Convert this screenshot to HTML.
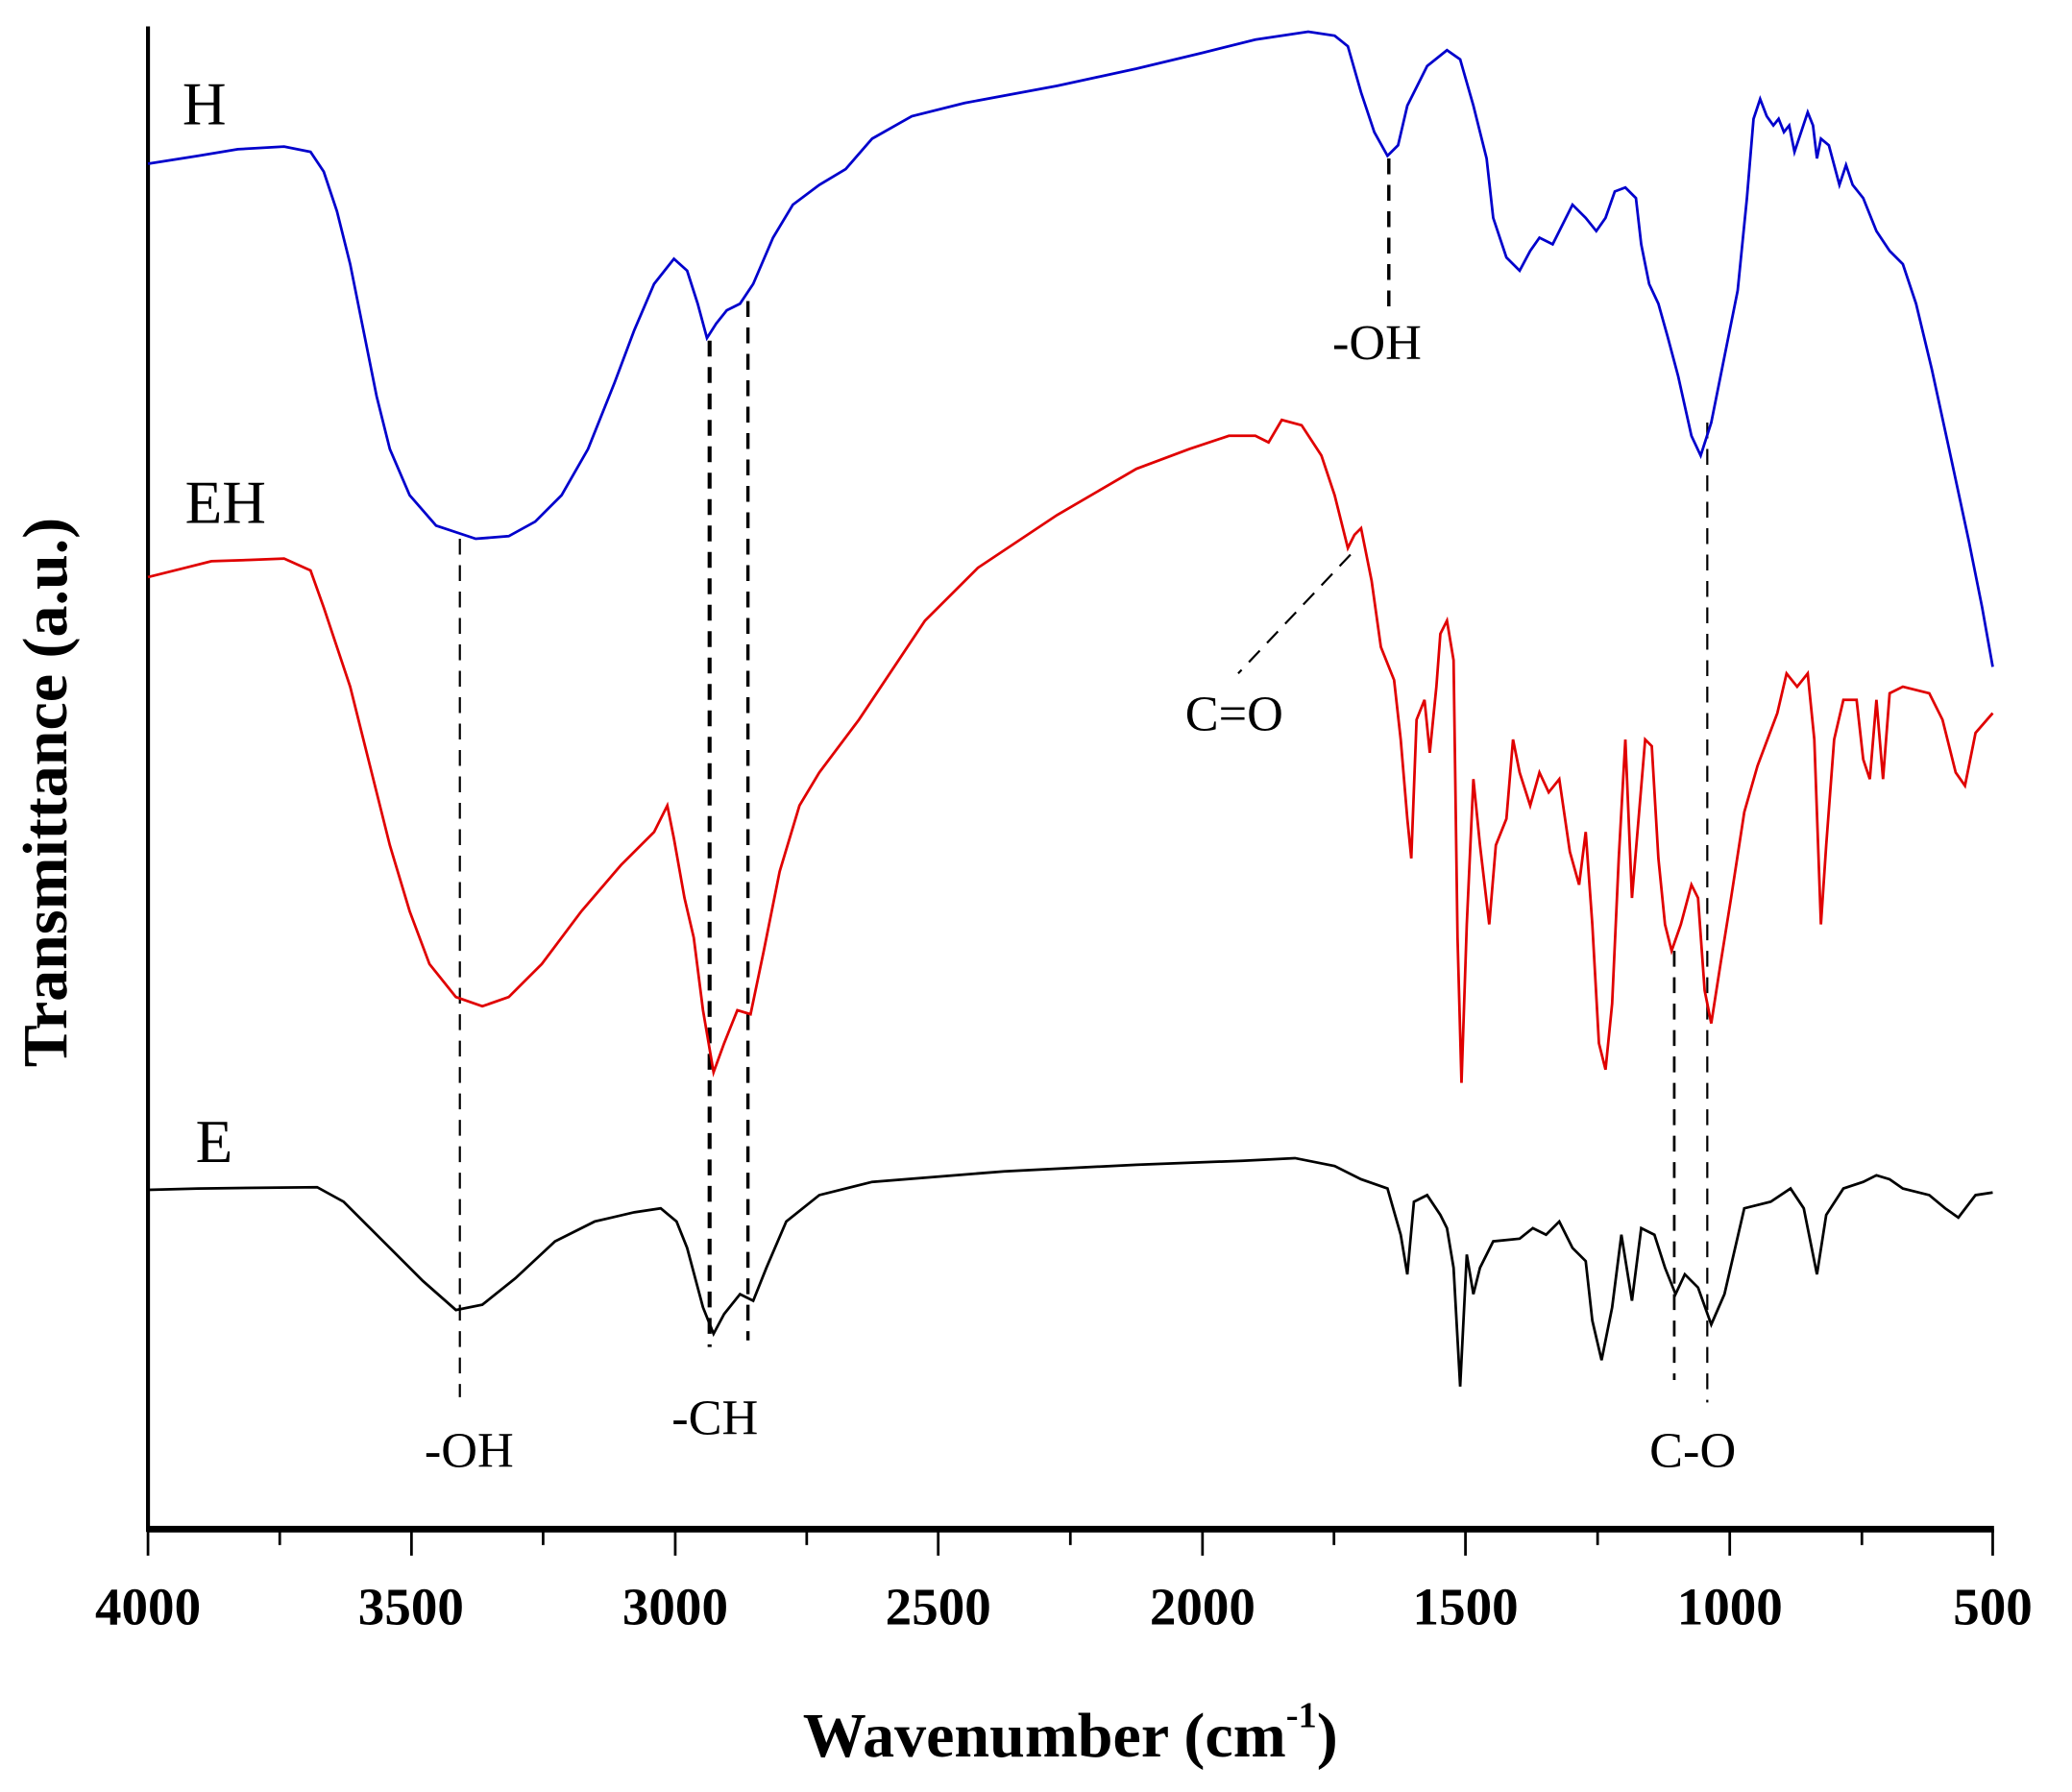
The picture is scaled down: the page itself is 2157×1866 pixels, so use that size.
<!DOCTYPE html>
<html><head><style>html,body{margin:0;padding:0;background:#fff}svg{display:block}</style></head><body>
<svg width="2157" height="1866" viewBox="0 0 1568 1357" preserveAspectRatio="none" xmlns="http://www.w3.org/2000/svg" font-family="Liberation Serif, serif">
<rect width="1568" height="1357" fill="#fff"/>
<g stroke="#000" fill="none">
<line x1="112" y1="20" x2="112" y2="1160" stroke-width="3"/>
<line x1="111" y1="1158" x2="1509" y2="1158" stroke-width="5"/>
<g stroke-width="2">
<line x1="112" y1="1158" x2="112" y2="1178"/><line x1="211.7" y1="1158" x2="211.7" y2="1170"/>
<line x1="311.4" y1="1158" x2="311.4" y2="1178"/><line x1="411" y1="1158" x2="411" y2="1170"/>
<line x1="511" y1="1158" x2="511" y2="1178"/><line x1="610.5" y1="1158" x2="610.5" y2="1170"/>
<line x1="710" y1="1158" x2="710" y2="1178"/><line x1="810" y1="1158" x2="810" y2="1170"/>
<line x1="910" y1="1158" x2="910" y2="1178"/><line x1="1009.5" y1="1158" x2="1009.5" y2="1170"/>
<line x1="1109" y1="1158" x2="1109" y2="1178"/><line x1="1209" y1="1158" x2="1209" y2="1170"/>
<line x1="1309" y1="1158" x2="1309" y2="1178"/><line x1="1409" y1="1158" x2="1409" y2="1170"/>
<line x1="1508" y1="1158" x2="1508" y2="1178"/>
</g>
</g>
<g font-size="40" font-weight="bold" text-anchor="middle">
<text x="112" y="1230">4000</text><text x="311" y="1230">3500</text><text x="511" y="1230">3000</text><text x="710" y="1230">2500</text><text x="910" y="1230">2000</text><text x="1109" y="1230">1500</text><text x="1309" y="1230">1000</text><text x="1508" y="1230">500</text>
</g>
<text x="810" y="1330" font-size="48" font-weight="bold" text-anchor="middle">Wavenumber (cm<tspan font-size="28" dy="-22">-1</tspan><tspan dy="22">)</tspan></text>
<text transform="translate(50,600) rotate(-90)" font-size="48" font-weight="bold" text-anchor="middle">Transmittance (a.u.)</text>

<g stroke="#000" fill="none" stroke-dasharray="12,8">
<line x1="348" y1="408" x2="348" y2="1058" stroke-width="1.6"/>
<line x1="537" y1="258" x2="537" y2="1020" stroke-width="3"/>
<line x1="566" y1="228" x2="566" y2="1015" stroke-width="2.5"/>
<line x1="1051" y1="120" x2="1051" y2="232" stroke-width="2.5"/>
<line x1="1292" y1="320" x2="1292" y2="1062" stroke-width="1.6"/>
<line x1="1267" y1="720" x2="1267" y2="1045" stroke-width="2"/>
<line x1="1022" y1="420" x2="937" y2="510" stroke-width="1.6"/>
</g>

<polyline fill="none" stroke="#0000cc" stroke-width="2" points="112,124 150,118 180,113 215,111 235,115 245,130 255,160 265,200 275,250 285,300 295,340 310,375 330,398 360,408 385,406 405,395 425,375 445,340 465,290 480,250 495,215 510,196 520,205 528,230 535,256 542,245 550,235 560,230 570,215 585,180 600,155 620,140 640,128 660,105 690,88 730,78 800,65 860,52 910,40 950,30 990,24 1010,27 1020,35 1030,70 1040,100 1050,118 1058,110 1065,80 1080,50 1095,38 1105,45 1115,80 1125,120 1130,165 1140,195 1150,205 1158,190 1165,180 1175,185 1180,175 1190,155 1200,165 1208,175 1215,165 1222,145 1230,142 1238,150 1242,185 1248,215 1255,230 1262,255 1270,285 1280,330 1287,345 1295,320 1305,270 1315,220 1322,150 1327,90 1332,75 1337,88 1342,95 1346,90 1350,100 1354,95 1358,115 1363,100 1368,85 1372,95 1375,120 1378,105 1384,110 1388,125 1392,140 1397,125 1402,140 1410,150 1420,175 1430,190 1440,200 1450,230 1462,280 1475,340 1490,410 1500,460 1508,505"/>

<polyline fill="none" stroke="#e00000" stroke-width="2" points="112,437 140,430 160,425 190,424 215,423 235,432 245,460 255,490 265,520 280,580 295,640 310,690 325,730 345,755 365,762 385,755 410,730 440,690 470,655 495,630 505,610 510,635 518,680 525,710 532,765 540,812 548,790 558,765 568,768 578,720 590,660 605,610 620,585 650,545 700,470 740,430 800,390 860,355 900,340 930,330 950,330 960,335 970,318 985,322 1000,345 1010,375 1020,415 1025,405 1030,400 1038,440 1045,490 1055,515 1060,560 1065,620 1068,650 1072,545 1078,530 1082,570 1087,520 1090,480 1095,470 1100,500 1103,710 1106,820 1110,700 1115,590 1120,640 1127,700 1132,640 1140,620 1145,560 1150,585 1158,610 1165,585 1172,600 1180,590 1188,645 1195,670 1200,630 1205,700 1210,790 1215,810 1220,760 1225,650 1230,560 1235,680 1240,620 1245,560 1250,565 1255,650 1260,700 1265,720 1272,700 1280,670 1285,680 1290,750 1295,775 1302,730 1310,680 1320,615 1330,580 1345,540 1352,510 1360,520 1368,510 1373,560 1378,700 1382,640 1388,560 1395,530 1405,530 1410,575 1415,590 1420,530 1425,590 1430,525 1440,520 1460,525 1470,545 1480,585 1487,595 1495,555 1508,540"/>

<polyline fill="none" stroke="#000" stroke-width="2" points="112,901 150,900 240,899 260,910 280,930 300,950 320,970 345,992 365,988 390,968 420,940 450,925 480,918 500,915 512,925 520,945 532,990 540,1010 548,995 560,980 570,985 580,960 595,925 620,905 660,895 760,887 860,882 940,879 980,877 1010,883 1030,893 1050,900 1060,935 1065,965 1070,910 1080,905 1090,920 1095,930 1100,960 1105,1050 1110,950 1115,980 1120,960 1130,940 1150,938 1160,930 1170,935 1180,925 1190,945 1200,955 1205,1000 1212,1030 1220,990 1227,935 1235,985 1242,930 1252,935 1260,960 1268,980 1275,965 1285,975 1295,1003 1305,980 1320,915 1340,910 1355,900 1365,915 1375,965 1382,920 1395,900 1410,895 1420,890 1430,893 1440,900 1460,905 1472,915 1482,922 1495,905 1508,903"/>

<g font-size="46">
<text x="138" y="94">H</text><text x="140" y="396">EH</text><text x="148" y="880">E</text>
</g>
<g font-size="38" text-anchor="middle">
<text x="1042" y="272">-OH</text>
<text x="934" y="553">C=O</text>
<text x="355" y="1111">-OH</text>
<text x="541" y="1086">-CH</text>
<text x="1281" y="1111">C-O</text>
</g>
</svg>
</body></html>
